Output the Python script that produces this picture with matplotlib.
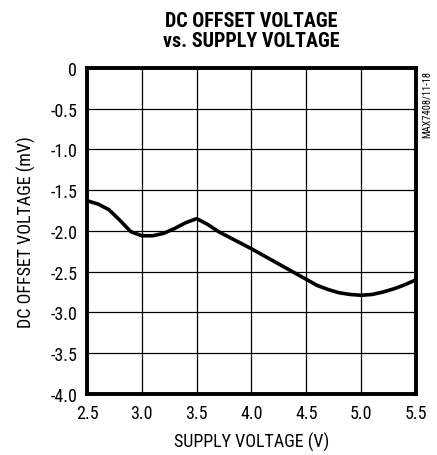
import matplotlib
matplotlib.use("Agg")
import matplotlib.pyplot as plt

# supply voltage (V) and DC offset (mV)
supply_v = [2.5, 2.6, 2.7, 2.8, 2.9, 3.0, 3.1, 3.2, 3.3, 3.4, 3.5, 3.6, 3.7,
            3.8, 3.9, 4.0, 4.2, 4.4, 4.6, 4.7, 4.8, 4.9, 5.0, 5.1, 5.2, 5.3,
            5.4, 5.5]
offset_mv = [-1.63, -1.67, -1.74, -1.87, -2.01, -2.06, -2.06, -2.03, -1.97,
             -1.90, -1.85, -1.92, -2.01, -2.08, -2.15, -2.22, -2.37, -2.52,
             -2.67, -2.72, -2.76, -2.78, -2.79, -2.78, -2.75, -2.71, -2.66,
             -2.60]

x_ticks = [2.5, 3.0, 3.5, 4.0, 4.5, 5.0, 5.5]
y_ticks = [0, -0.5, -1.0, -1.5, -2.0, -2.5, -3.0, -3.5, -4.0]
y_labels = ["0", "-0.5", "-1.0", "-1.5", "-2.0", "-2.5", "-3.0", "-3.5", "-4.0"]

plt.rcParams['font.family'] = ['Roboto Condensed', 'DejaVu Sans']

fig = plt.figure(figsize=(4.37, 4.56), dpi=100)
ax = fig.add_axes([0.199, 0.134, 0.753, 0.715])

ax.plot(supply_v, offset_mv, color="black", linewidth=2.6)

ax.set_xlim(2.5, 5.5)
ax.set_ylim(-4.0, 0)
ax.set_xticks(x_ticks)
ax.set_xticklabels([f"{v:.1f}" for v in x_ticks])
ax.set_yticks(y_ticks)
ax.set_yticklabels(y_labels)
ax.tick_params(length=0, labelsize=13, pad=7)
ax.grid(True, color="black", linewidth=0.9)
for s in ax.spines.values():
    s.set_linewidth(2.8)

ax.set_xlabel("SUPPLY VOLTAGE (V)", fontsize=13, labelpad=7)
ax.set_ylabel("DC OFFSET VOLTAGE (mV)", fontsize=13, labelpad=10)
ax.set_title("DC OFFSET VOLTAGE\nvs. SUPPLY VOLTAGE", fontsize=14.5,
             fontweight="heavy", pad=16, linespacing=1.05)

fig.text(0.976, 0.845, "MAX7408/11-18", rotation=90, fontsize=7.5,
         ha="center", va="top")

fig.savefig("out.png", dpi=100)
